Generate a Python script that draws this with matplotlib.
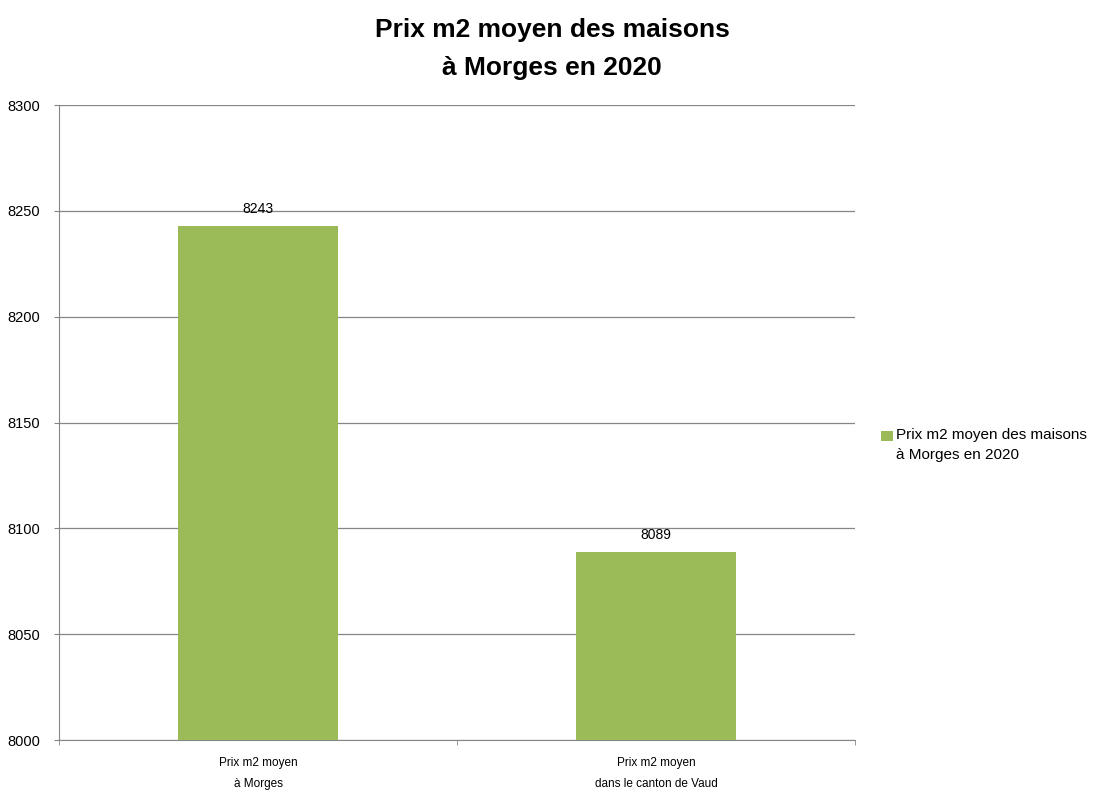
import matplotlib.pyplot as plt
from matplotlib.patches import Rectangle
from matplotlib.legend_handler import HandlerPatch
import numpy as np

categories = ["Prix m2 moyen\nà Morges", "Prix m2 moyen\ndans le canton de Vaud"]
prices = [8243, 8089]
series_name = "Prix m2 moyen des maisons\nà Morges en 2020"
title = "Prix m2 moyen des maisons\nà Morges en 2020"

plt.rcParams['font.family'] = ['Liberation Sans', 'DejaVu Sans']

fig = plt.figure(figsize=(11.02, 7.98), dpi=100)
ax = fig.add_axes([59 / 1102, 58 / 798, 796 / 1102, 635 / 798])

x = np.arange(len(categories))
bars = ax.bar(x, prices, width=0.4, color='#9BBB59', label=series_name, zorder=3)

for xi, v in zip(x, prices):
    ax.annotate(str(v), (xi, v), xytext=(0, 7), textcoords='offset points',
                ha='center', va='bottom', fontsize=10)

ax.set_xlim(-0.5, len(categories) - 0.5)
ax.set_ylim(8000, 8300)
ax.set_yticks(np.arange(8000, 8301, 50))
ax.yaxis.grid(True, color='#868686', linewidth=0.9, zorder=0)

ax.set_xticks(x)
ax.set_xticklabels(categories, fontsize=8.5, linespacing=2.0)
ax.tick_params(axis='x', length=0, pad=12.5)
# category boundary ticks
ax.set_xticks([-0.5, 0.5, 1.5], minor=True)
ax.tick_params(axis='x', which='minor', length=3.6, color='#868686')
ax.tick_params(axis='y', length=3.6, color='#868686', labelsize=10.5, pad=10)

for s in ['top', 'right']:
    ax.spines[s].set_visible(False)
for s in ['left', 'bottom']:
    ax.spines[s].set_color('#868686')

fig.text(552 / 1102, 1 - 49 / 798, title, ha='center', va='center',
         fontsize=19, fontweight='bold', linespacing=1.72)


# legend square sits next to the first line of the label
def top_square(legend, orig_handle, xdescent, ydescent, width, height, fontsize):
    return Rectangle((-xdescent, -ydescent + 0.6 * fontsize), width, height)


leg = fig.legend(handles=[bars.patches[0]], labels=[series_name],
                 loc='center left', bbox_to_anchor=(873 / 1102, 1 - 445 / 798),
                 frameon=False, fontsize=11, handlelength=0.78, handleheight=0.6,
                 handletextpad=0.2, borderpad=0,
                 handler_map={Rectangle: HandlerPatch(patch_func=top_square)})
leg.get_texts()[0].set_linespacing(1.6)

fig.savefig('out.png', dpi=100)
